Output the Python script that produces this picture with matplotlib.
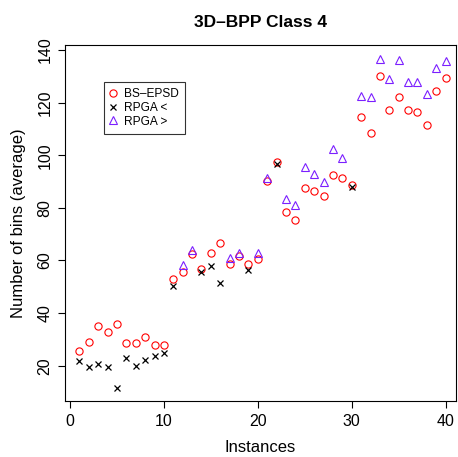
import matplotlib
matplotlib.use("Agg")
import matplotlib.pyplot as plt
import numpy as np

plt.rcParams['font.family'] = ['Liberation Sans', 'DejaVu Sans']

instances = list(range(1, 41))
bs_epsd = [25.7, 28.9, 35.0, 32.8, 35.9, 28.7, 28.7, 30.9, 27.9, 27.9,
           52.9, 55.7, 62.5, 56.8, 62.7, 66.8, 58.7, 61.7, 58.7, 60.6,
           90.3, 97.5, 78.6, 75.5, 87.5, 86.4, 84.5, 92.5, 91.5, 88.7,
           114.4, 108.4, 130.3, 117.3, 122.3, 117.3, 116.3, 111.4, 124.3, 129.4]
rpga = [21.8, 19.4, 20.5, 19.4, 11.6, 22.8, 20.0, 22.3, 23.6, 24.7,
        50.4, 58.3, 64.0, 55.5, 57.9, 51.3, 60.8, 63.0, 56.4, 62.7,
        91.3, 96.6, 83.5, 81.1, 95.7, 92.9, 90.0, 102.3, 98.9, 88.1,
        122.4, 122.2, 136.6, 128.9, 136.1, 127.8, 127.8, 123.2, 133.1, 136.0]

title = "3D\u2013BPP Class 4"
xlabel = "Instances"
ylabel = "Number of bins (average)"
labels = ["BS\u2013EPSD", "RPGA <", "RPGA >"]

x = np.array(instances)
bs = np.array(bs_epsd)
rp = np.array(rpga)
less = rp < bs
greater = ~less

W, H = 458, 457
fig = plt.figure(figsize=(W / 100, H / 100), dpi=100)
L, R, T, B = 65, 456, 45, 401
ax = fig.add_axes([L / W, 1 - B / H, (R - L) / W, (B - T) / H])

blue = '#7B1FFF'
ax.plot(x, bs, linestyle='none', marker='o', markersize=5.2, markerfacecolor='none',
        markeredgecolor='red', markeredgewidth=0.8, label=labels[0])
ax.plot(x[less], rp[less], linestyle='none', marker='x', markersize=4.8,
        color='black', markeredgewidth=0.9, label=labels[1])
ax.plot(x[greater], rp[greater], linestyle='none', marker='^', markersize=5.6,
        markerfacecolor='none', markeredgecolor=blue, markeredgewidth=0.8, label=labels[2])

ax.set_xlim(-0.53, 41.1)
ax.set_ylim(6.6, 141.9)
ax.set_xticks([0, 10, 20, 30, 40])
ax.set_yticks([20, 40, 60, 80, 100, 120, 140])
ax.tick_params(direction='out', length=5, width=0.8, labelsize=11.5, pad=4)
for lab in ax.get_yticklabels():
    lab.set_rotation(90)
    lab.set_va('center')
for s in ax.spines.values():
    s.set_linewidth(0.8)

ax.set_title(title, fontsize=12.5, fontweight='bold', pad=13)
ax.set_xlabel(xlabel, fontsize=12, labelpad=8)
ax.set_ylabel(ylabel, fontsize=12, labelpad=8)

leg = ax.legend(loc='upper left', bbox_to_anchor=((104 - L) / (R - L), 1 - (82 - T) / (B - T)),
                frameon=True, fancybox=False, edgecolor='black', fontsize=8.6,
                handlelength=0.5, handletextpad=0.7, borderpad=0.5, labelspacing=0.15,
                borderaxespad=0)
leg.get_frame().set_linewidth(0.8)

fig.savefig("out.png", dpi=100)
